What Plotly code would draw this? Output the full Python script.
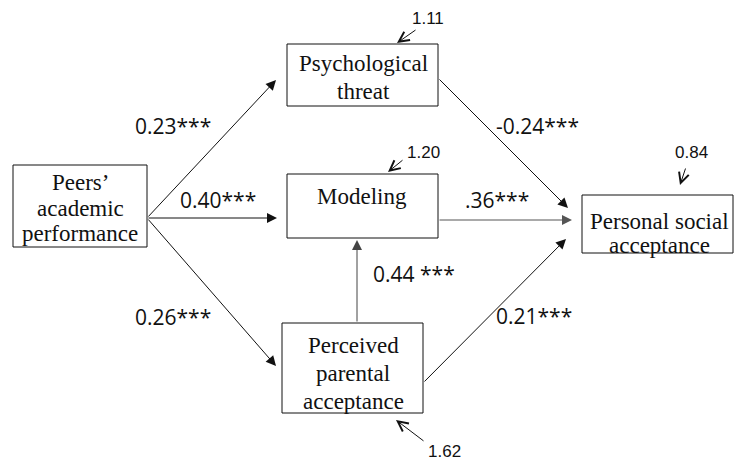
import plotly.graph_objects as go

# ---- content ----
node_lines = {
    "peers": ["Peers’", "academic", "performance"],
    "threat": ["Psychological", "threat"],
    "model": ["Modeling"],
    "parent": ["Perceived", "parental", "acceptance"],
    "social": ["Personal social", "acceptance"],
}
coef_labels = ["0.23***", "0.40***", "0.26***", "-0.24***", ".36***", "0.44 ***", "0.21***"]
residual_labels = ["1.11", "1.20", "0.84", "1.62"]

# ---- layout (pixel coordinates, y downward) ----
boxes = {
    "peers": (13, 165, 147, 247),
    "threat": (287, 44, 438, 106),
    "model": (287, 174, 438, 238),
    "parent": (282, 323, 423, 413),
    "social": (582, 195, 733, 253),
}
line_y = {
    "peers": [182, 208, 233],
    "threat": [63, 91],
    "model": [196],
    "parent": [345, 373, 401],
    "social": [221, 245],
}
text_x = {"peers": 80, "threat": 363, "model": 362, "parent": 353, "social": 659}

# paths: (tail, tip, colour)
paths = [
    ((147, 218), (276, 80), "#111"),
    ((147, 218), (277, 218), "#111"),
    ((147, 218), (276, 366), "#111"),
    ((438, 78), (568, 208), "#111"),
    ((438, 220), (572, 220), "#555"),
    ((357, 323), (357, 240), "#444"),
    ((423, 383), (566, 239), "#111"),
]
coef_pos = [(173, 126), (218, 200), (173, 317), (537, 126), (497, 200), (414, 274), (534, 316)]
res_pos = [(428, 18), (423, 152), (691, 152), (444, 451)]
res_arrows = [((417, 29), (397, 43)), ((404, 159), (388, 172)),
              ((686, 167), (680, 185)), ((425, 442), (396, 420))]

fig = go.Figure()
fig.add_trace(go.Scatter(x=[0, 737], y=[0, 461], mode="markers",
                         marker=dict(opacity=0), hoverinfo="skip", showlegend=False))

shapes = []
for k, (x0, y0, x1, y1) in boxes.items():
    shapes.append(dict(type="rect", xref="x", yref="y", x0=x0, y0=y0, x1=x1, y1=y1,
                       line=dict(color="#111", width=1), fillcolor="rgba(0,0,0,0)"))

ann = []
for k, lines in node_lines.items():
    for txt, yy in zip(lines, line_y[k]):
        ann.append(dict(x=text_x[k], y=yy, xref="x", yref="y", text=txt, showarrow=False,
                        xanchor="center", yanchor="middle",
                        font=dict(family="Liberation Serif", size=23, color="#111")))

for (t, h, c) in paths:
    ann.append(dict(x=h[0], y=h[1], ax=t[0], ay=t[1], xref="x", yref="y", axref="x", ayref="y",
                    text="", showarrow=True, arrowhead=2, arrowsize=2, arrowwidth=1,
                    arrowcolor=c, standoff=0, startstandoff=0))

for txt, (x, y) in zip(coef_labels, coef_pos):
    ann.append(dict(x=x, y=y, xref="x", yref="y", text=txt, showarrow=False,
                    xanchor="center", yanchor="middle",
                    font=dict(family="Open Sans", size=21, color="#111")))

for txt, (x, y) in zip(residual_labels, res_pos):
    ann.append(dict(x=x, y=y, xref="x", yref="y", text=txt, showarrow=False,
                    xanchor="center", yanchor="middle",
                    font=dict(family="Liberation Sans", size=17, color="#111")))

for (t, h) in res_arrows:
    ann.append(dict(x=h[0], y=h[1], ax=t[0], ay=t[1], xref="x", yref="y", axref="x", ayref="y",
                    text="", showarrow=True, arrowhead=5, arrowsize=2, arrowwidth=1,
                    arrowcolor="#111", standoff=0, startstandoff=0))

fig.update_layout(
    width=737, height=461, margin=dict(l=0, r=0, t=0, b=0),
    paper_bgcolor="white", plot_bgcolor="white",
    xaxis=dict(range=[0, 737], visible=False, fixedrange=True),
    yaxis=dict(range=[461, 0], visible=False, fixedrange=True),
    shapes=shapes, annotations=ann, showlegend=False,
)
fig.write_html("out.html", config={"displayModeBar": False},
               post_script="document.body.style.margin='0';document.body.style.overflow='hidden';")
